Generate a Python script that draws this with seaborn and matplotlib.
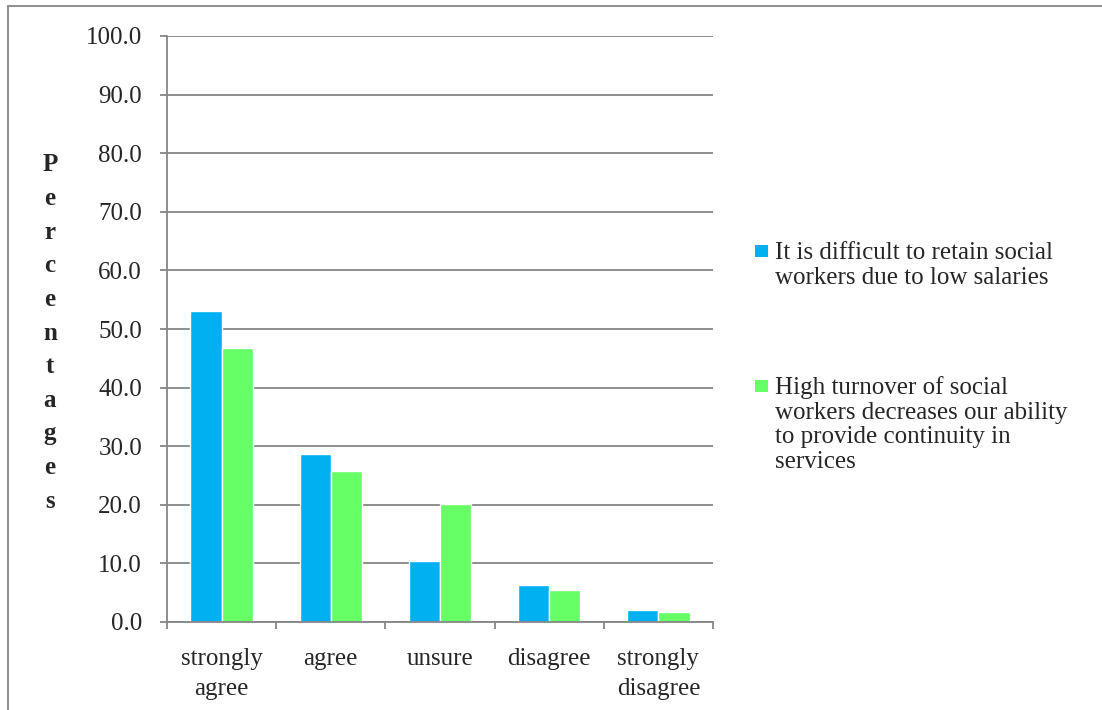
import matplotlib
matplotlib.use("Agg")
import matplotlib.pyplot as plt
from matplotlib.lines import Line2D
from matplotlib.patches import Rectangle
import seaborn as sns
import pandas as pd

categories = ["strongly\nagree", "agree", "unsure", "disagree", "strongly\ndisagree"]
series_names = [
    "It is difficult to retain social\nworkers due to low salaries",
    "High turnover of social\nworkers decreases our ability\nto provide continuity in\nservices",
]
retain_low_salaries = [53.0, 28.6, 10.4, 6.3, 2.0]
turnover_continuity = [46.8, 25.7, 20.1, 5.4, 1.7]
y_ticks = [0, 10, 20, 30, 40, 50, 60, 70, 80, 90, 100]
colors = ["#00B0F0", "#66FF66"]

df = pd.DataFrame({
    "category": categories * 2,
    "series": [series_names[0]] * 5 + [series_names[1]] * 5,
    "value": retain_low_salaries + turnover_continuity,
})

sns.set_style("white")
plt.rcParams["font.family"] = ["Liberation Serif", "DejaVu Serif"]
grey = "#868686"
FS = 18
W, H = 1102, 710

fig = plt.figure(figsize=(W / 100, H / 100), dpi=100)
ax = fig.add_axes([167 / W, 1 - 622 / H, (713 - 167) / W, (622 - 36) / H])

sns.barplot(data=df, x="category", y="value", hue="series", order=categories,
            hue_order=series_names, palette=colors, saturation=1, width=0.573,
            ax=ax, legend=False)

ax.set_ylim(0, 100)
ax.set_xlim(-0.5, 4.5)
ax.set_yticks(y_ticks)
ax.set_yticklabels([f"{v:.1f}" for v in y_ticks], fontsize=FS)
ax.yaxis.grid(True, color=grey, linewidth=1.3)
ax.set_axisbelow(True)
for s in ["top", "right"]:
    ax.spines[s].set_visible(False)
for s in ["left", "bottom"]:
    ax.spines[s].set_color(grey)
    ax.spines[s].set_linewidth(1.3)
ax.tick_params(axis="y", which="both", left=True, length=5, width=1.3, color=grey, pad=13)
ax.set_xticks(range(5))
ax.set_xticklabels(categories, fontsize=FS, linespacing=1.42)
ax.tick_params(axis="x", which="major", length=0, pad=19)
ax.set_xticks([x + 0.5 for x in range(-1, 5)], minor=True)
ax.tick_params(axis="x", which="minor", bottom=True, length=5, width=1.3, color=grey)
ax.set_xlabel("")
ax.set_ylabel("")
fig.text(50 / W, 1 - 333 / H, "\n".join("Percentages"), ha="center", va="center",
         fontsize=FS, fontweight="bold", linespacing=1.59)

# legend (drawn manually so the swatch sits beside the first line)
legend_rows = [(245, 242), (380, 376)]
for (sq_y, txt_y), name, col in zip(legend_rows, series_names, colors):
    fig.add_artist(Rectangle((755 / W, 1 - (sq_y + 12) / H), 13 / W, 12 / H,
                             transform=fig.transFigure, facecolor=col, edgecolor="none"))
    fig.text(775 / W, 1 - txt_y / H, name, ha="left", va="top", fontsize=FS,
             linespacing=1.15)

fig.add_artist(Line2D([8 / W, 8 / W], [0, 1 - 6 / H], color=grey, linewidth=1.3))
fig.add_artist(Line2D([8 / W, 1], [1 - 6 / H, 1 - 6 / H], color=grey, linewidth=1.3))

fig.savefig("out.png", dpi=100)
